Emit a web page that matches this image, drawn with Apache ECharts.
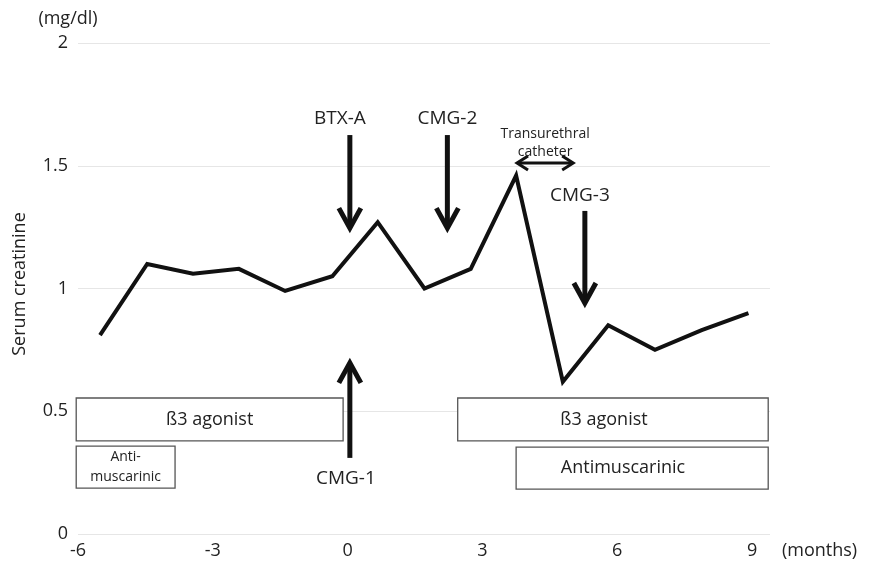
<!DOCTYPE html>
<html>
<head>
<meta charset="utf-8">
<script src="https://cdn.jsdelivr.net/npm/echarts@6/dist/echarts.min.js"></script>
<style>
html,body{margin:0;padding:0;background:#fff;}
#chart{width:871px;height:563px;}
</style>
</head>
<body>
<div id="chart"></div>
<script>
// ---- data ----
const months = [-5.51, -4.46, -3.44, -2.42, -1.39, -0.34, 0.67, 1.71, 2.74, 3.75, 4.79, 5.80, 6.84, 7.88, 8.92];
const creatinine = [0.81, 1.10, 1.06, 1.08, 0.99, 1.05, 1.27, 1.00, 1.08, 1.46, 0.62, 0.85, 0.75, 0.83, 0.90];
const xTicks = [-6, -3, 0, 3, 6, 9];
const yTicks = [0, 0.5, 1, 1.5, 2];
const eventNames = ['BTX-A', 'CMG-2', 'CMG-3', 'CMG-1'];
const eventMonths = [0.05, 2.22, 5.28, 0.05];
const treatmentNames = ['ß3 agonist', 'Anti-\nmuscarinic', 'ß3 agonist', 'Antimuscarinic'];
const treatmentStart = [-6.04, -6.04, 2.45, 3.75];
const treatmentEnd = [-0.10, -3.84, 9.36, 9.36];
const catheterStart = 3.77, catheterEnd = 5.02;

const FONT = "'Open Sans', 'Noto Sans', sans-serif";
const chart = echarts.init(document.getElementById('chart'), null, {renderer: 'canvas'});

chart.setOption({
  backgroundColor: '#fff',
  animation: false,
  grid: {left: 78, right: 101, top: 43, bottom: 29},
  xAxis: {
    type: 'value', min: -6, max: 9.4, interval: 3,
    axisLine: {show: false}, axisTick: {show: false}, splitLine: {show: false},
    axisLabel: {
      fontFamily: FONT, fontSize: 18, color: '#222', margin: 8,
      showMaxLabel: false,
      formatter: v => xTicks.indexOf(v) >= 0 ? String(v) : ''
    },
    name: '(months)', nameLocation: 'end', nameGap: 12,
    nameTextStyle: {fontFamily: FONT, fontSize: 18, color: '#222', verticalAlign: 'top', padding: [8, 0, 0, 0]}
  },
  yAxis: {
    type: 'value', min: 0, max: 2, interval: 0.5,
    axisLine: {show: false}, axisTick: {show: false},
    splitLine: {show: true, lineStyle: {color: '#e6e6e6', width: 1}},
    axisLabel: {fontFamily: FONT, fontSize: 18, color: '#222', margin: 10,
      formatter: v => yTicks.indexOf(v) >= 0 ? String(v) : ''}
  },
  series: [{
    type: 'line',
    data: months.map((m, i) => [m, creatinine[i]]),
    showSymbol: false, symbol: 'none',
    lineStyle: {color: '#111', width: 4, join: 'miter', miterLimit: 10},
    silent: true
  }]
});

function px(m, v) { return chart.convertToPixel({gridIndex: 0}, [m, v]); }
function vy(v) { return px(0, v)[1]; }
function mx(m) { return px(m, 0)[0]; }

const g = [];
const textStyle = (t, x, y, size) => ({
  type: 'text', x: x, y: y, silent: true,
  style: {text: t, fontFamily: FONT, fontSize: size, fill: '#222', align: 'center', verticalAlign: 'middle', lineHeight: size + 5}
});
const stroke = (pts, w) => ({
  type: 'polyline', silent: true, shape: {points: pts},
  style: {stroke: '#111', lineWidth: w, fill: null, lineJoin: 'miter', lineCap: 'butt'}
});

// down arrows: BTX-A, CMG-2, CMG-3
const downTop = [1.625, 1.625, 1.316];
const downTip = [1.246, 1.246, 0.941];
const labelV = [1.694, 1.694, 1.377];
const labelDx = [-10, 0, -5];
for (let i = 0; i < 3; i++) {
  const x = mx(eventMonths[i]);
  const yt = vy(downTop[i]), yp = vy(downTip[i]);
  g.push(stroke([[x, yt], [x, yp - 2]], 5));
  g.push(stroke([[x - 11, yp - 20], [x, yp], [x + 11, yp - 20]], 5));
  g.push(textStyle(eventNames[i], x + labelDx[i], vy(labelV[i]), 19));
}
// up arrow: CMG-1
{
  const x = mx(eventMonths[3]);
  const yp = vy(0.697), yb = vy(0.31);
  g.push(stroke([[x, yb], [x, yp + 2]], 5));
  g.push(stroke([[x - 11, yp + 20], [x, yp], [x + 11, yp + 20]], 5));
  g.push(textStyle(eventNames[3], x - 4, vy(0.224), 19));
}
// catheter double arrow
{
  const x1 = mx(catheterStart), x2 = mx(catheterEnd), y = vy(1.511);
  g.push(stroke([[x1 + 1, y], [x2 - 1, y]], 3));
  g.push(stroke([[x1 + 11, y - 7], [x1, y], [x1 + 11, y + 7]], 3));
  g.push(stroke([[x2 - 11, y - 7], [x2, y], [x2 - 11, y + 7]], 3));
  const cx = (x1 + x2) / 2;
  g.push(textStyle('Transurethral', cx, vy(1.63), 14));
  g.push(textStyle('catheter', cx, vy(1.557), 14));
}
// treatment boxes
const boxTop = [0.554, 0.358, 0.554, 0.354];
const boxBot = [0.379, 0.187, 0.379, 0.183];
const textX = [null, null, 604, 623];
const textSize = [18, 14, 18, 18];
for (let i = 0; i < 4; i++) {
  const x1 = mx(treatmentStart[i]), x2 = mx(treatmentEnd[i]);
  const y1 = vy(boxTop[i]), y2 = vy(boxBot[i]);
  g.push({type: 'rect', silent: true, shape: {x: x1, y: y1, width: x2 - x1, height: y2 - y1},
    style: {fill: '#fff', stroke: '#555', lineWidth: 1.3}});
  const tx = textX[i] != null ? textX[i] : (x1 + x2) / 2;
  const t = textStyle(treatmentNames[i], tx, (y1 + y2) / 2, textSize[i]);
  if (textSize[i] === 14) t.style.lineHeight = 20;
  g.push(t);
}
// axis titles
g.push({type: 'text', silent: true, x: 20, y: 284, rotation: Math.PI / 2,
  style: {text: 'Serum creatinine', fontFamily: FONT, fontSize: 18, fill: '#222', align: 'center', verticalAlign: 'middle'}});
g.push(textStyle('(mg/dl)', 68, 19, 18));

chart.setOption({graphic: g});
</script>
</body>
</html>
